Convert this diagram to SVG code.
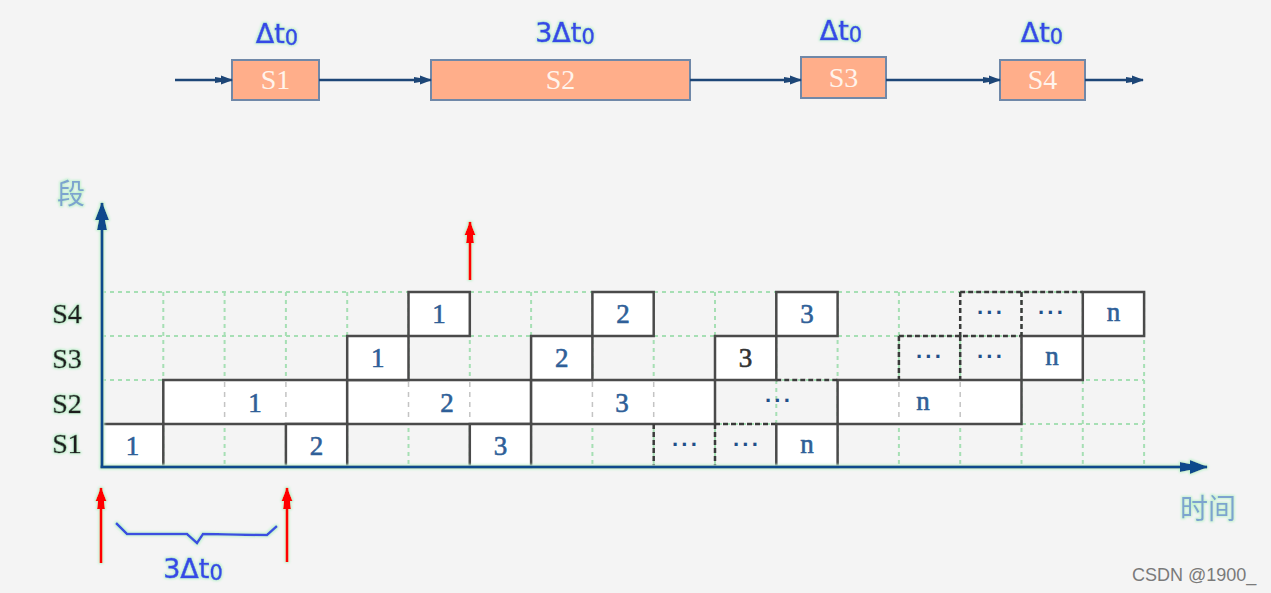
<svg xmlns="http://www.w3.org/2000/svg" width="1271" height="593" viewBox="0 0 1271 593">
<style>
.stage rect{fill:#ffae8a;stroke:#7088a8;stroke-width:2}
.stage text{font-family:"Liberation Serif",serif;font-size:28px;fill:#fff4ec;text-anchor:middle}
.dt{font-family:"DejaVu Sans",sans-serif;font-size:27px;fill:#3548e6;stroke:#3548e6;stroke-width:0.6;text-anchor:middle}
.pipe{stroke:#1d4677;stroke-width:2.5;fill:none;marker-end:url(#ah)}
.grid{stroke:#a6dfb4;stroke-width:2;stroke-dasharray:4 4;fill:none}
.cell rect{fill:#fff;stroke:#4a4a4a;stroke-width:2.5}
.inner{stroke:#c4c4c4;stroke-width:1.5;stroke-dasharray:5 5;fill:none}
.dash{stroke:#3a3a3a;stroke-width:2.5;stroke-dasharray:5 3;fill:none}
.num{font-family:"Liberation Serif",serif;font-size:27px;fill:#2f5f98;stroke:#2f5f98;stroke-width:0.6;text-anchor:middle}
.dk{fill:#333;stroke:#333}
.dots{font-family:"Liberation Sans",sans-serif;font-weight:bold;font-size:22px;fill:#1f4f8a;text-anchor:middle;letter-spacing:2px}
.row{font-family:"Liberation Serif",serif;font-size:28px;fill:#1e1e1e;stroke:#1e1e1e;stroke-width:0.6;text-anchor:middle}
.axis{stroke:#0f4a8c;stroke-width:3;fill:none}
.red{stroke:#ff0000;stroke-width:3;fill:none;marker-end:url(#rh)}
.cjk{font-family:"Noto Sans CJK SC",sans-serif;font-size:28px;fill:#7da3cf}
.brace{stroke:#3a50e0;stroke-width:2.5;fill:none}
.wm{font-family:"Liberation Sans",sans-serif;font-size:18px;fill:#7a7a7a}
</style>
<defs>
<filter id="glow" filterUnits="userSpaceOnUse" x="0" y="0" width="1271" height="593">
<feMorphology in="SourceAlpha" operator="dilate" radius="1.2" result="d"/>
<feFlood flood-color="#c2f2cf"/>
<feComposite in2="d" operator="in" result="g"/>
<feGaussianBlur in="g" stdDeviation="0.8" result="gb"/>
<feMerge><feMergeNode in="gb"/><feMergeNode in="SourceGraphic"/></feMerge>
</filter>
<marker id="ah" viewBox="0 0 18 10" refX="17" refY="5" markerWidth="18" markerHeight="10" markerUnits="userSpaceOnUse" orient="auto"><path d="M0,2 L6,3 L6,0.5 L18,5 L6,9.5 L6,7 L0,8 Z" fill="#1d4677"/></marker>
<marker id="axh" viewBox="0 0 28 16" refX="27" refY="8" markerWidth="28" markerHeight="16" markerUnits="userSpaceOnUse" orient="auto"><path d="M0,3 L10,5 L10,1 L28,8 L10,15 L10,11 L0,13 Z" fill="#0f4a8c"/></marker>
<marker id="rh" viewBox="0 0 22 12" refX="21" refY="6" markerWidth="22" markerHeight="12" markerUnits="userSpaceOnUse" orient="auto"><path d="M0,2 L8,3 L8,0.5 L22,6 L8,11.5 L8,9 L0,10 Z" fill="#ff0000"/></marker>
</defs>
<rect width="1271" height="593" fill="#f4f4f4"/>

<!-- pipeline stages -->
<g id="stage-S1" class="stage"><rect x="232" y="60" width="87" height="40"/><text x="275.5" y="89">S1</text></g>
<g id="stage-S2" class="stage"><rect x="431" y="60" width="259" height="40"/><text x="560.5" y="89">S2</text></g>
<g id="stage-S3" class="stage"><rect x="801" y="57" width="85" height="41"/><text x="843.5" y="87">S3</text></g>
<g id="stage-S4" class="stage"><rect x="1000" y="60" width="85" height="40"/><text x="1042.5" y="89">S4</text></g>
<g id="stage-times" filter="url(#glow)">
<text class="dt" x="277" y="43">Δt<tspan font-size="21" dy="2">0</tspan></text>
<text class="dt" x="565" y="42">3Δt<tspan font-size="21" dy="2">0</tspan></text>
<text class="dt" x="841" y="40">Δt<tspan font-size="21" dy="2">0</tspan></text>
<text class="dt" x="1042" y="42">Δt<tspan font-size="21" dy="2">0</tspan></text>
</g>

<!-- grid -->
<g id="grid" class="grid">
<path d="M102,292H1144M102,336H1144M102,380H1144M102,424H1144"/>
<path d="M163.3,292V467M224.6,292V467M285.9,292V467M347.2,292V467M408.5,292V467M469.8,292V467M531.1,292V467M592.4,292V467M653.7,292V467M715,292V467M776.3,292V467M837.6,292V467M898.9,292V467M960.2,292V467M1021.5,292V467M1082.8,292V467M1144.1,292V467"/>
</g>

<!-- S2 row -->
<g id="s2-1" class="cell"><rect x="163.3" y="380" width="183.9" height="44"/><path class="inner" d="M224.6,382V422M285.9,382V422"/><text class="num" x="255" y="412">1</text></g>
<g id="s2-2" class="cell"><rect x="347.2" y="380" width="183.9" height="44"/><path class="inner" d="M408.5,382V422M469.8,382V422"/><text class="num" x="447" y="412">2</text></g>
<g id="s2-3" class="cell"><rect x="531.1" y="380" width="183.9" height="44"/><path class="inner" d="M592.4,382V422M653.7,382V422"/><text class="num" x="622" y="412">3</text></g>
<g id="s2-n" class="cell"><rect x="837.6" y="380" width="183.9" height="44"/><path class="inner" d="M898.9,382V422M960.2,382V422"/><text class="num" x="923" y="410">n</text></g>
<g id="s2-dots"><path class="dash" d="M776.3,380H837.6M715,424H776.3"/><text class="dots" x="779" y="408">···</text></g>

<!-- S1 row -->
<g id="s1-1" class="cell"><rect x="102" y="424" width="61.3" height="43"/><text class="num" x="132.6" y="455">1</text></g>
<g id="s1-2" class="cell"><rect x="285.9" y="424" width="61.3" height="43"/><text class="num" x="316.5" y="455">2</text></g>
<g id="s1-3" class="cell"><rect x="469.8" y="424" width="61.3" height="43"/><text class="num" x="500.4" y="455">3</text></g>
<g id="s1-dots"><path class="dash" d="M653.7,424V467M715,424V467"/><text class="dots" x="686" y="452">···</text><text class="dots" x="747" y="452">···</text></g>
<g id="s1-n" class="cell"><rect x="776.3" y="424" width="61.3" height="43"/><text class="num" x="807" y="453">n</text></g>

<!-- S3 row -->
<g id="s3-1" class="cell"><rect x="347.2" y="336" width="61.3" height="44"/><text class="num" x="377.8" y="367">1</text></g>
<g id="s3-2" class="cell"><rect x="531.1" y="336" width="61.3" height="44"/><text class="num" x="561.7" y="367">2</text></g>
<g id="s3-3" class="cell"><rect x="715" y="336" width="61.3" height="44"/><text class="num dk" x="745.6" y="367">3</text></g>
<g id="s3-dots"><path class="dash" d="M898.9,336H1021.5M898.9,336V380M960.2,336V380"/><text class="dots" x="930" y="364">···</text><text class="dots" x="991" y="364">···</text></g>
<g id="s3-n" class="cell"><rect x="1021.5" y="336" width="61.3" height="44"/><text class="num" x="1052" y="365">n</text></g>

<!-- S4 row -->
<g id="s4-1" class="cell"><rect x="408.5" y="292" width="61.3" height="44"/><text class="num" x="439" y="323">1</text></g>
<g id="s4-2" class="cell"><rect x="592.4" y="292" width="61.3" height="44"/><text class="num" x="623" y="323">2</text></g>
<g id="s4-3" class="cell"><rect x="776.3" y="292" width="61.3" height="44"/><text class="num" x="807" y="323">3</text></g>
<g id="s4-dots"><path class="dash" d="M960.2,292H1082.8M960.2,292V336M1021.5,292V336"/><text class="dots" x="991" y="320">···</text><text class="dots" x="1052" y="320">···</text></g>
<g id="s4-n" class="cell"><rect x="1082.8" y="292" width="61.3" height="44"/><text class="num" x="1113.4" y="321">n</text></g>

<!-- row labels -->
<g id="row-labels" class="row" filter="url(#glow)">
<text x="67" y="323">S4</text>
<text x="67" y="368">S3</text>
<text x="67" y="413">S2</text>
<text x="67" y="453">S1</text>
</g>

<!-- connectors -->
<g id="connectors">
<path class="pipe" d="M175,80H232"/>
<path class="pipe" d="M319,80H431"/>
<path class="pipe" d="M690,80H801"/>
<path class="pipe" d="M886,80H1000"/>
<path class="pipe" d="M1085,80H1143"/>
<g filter="url(#glow)">
<path class="axis" d="M102,468V203" marker-end="url(#axh)"/>
<path class="axis" d="M100.5,467H1207" marker-end="url(#axh)"/>
<path class="red" d="M470,280V222"/>
<path class="red" d="M101,563V488"/>
<path class="red" d="M287,562V488"/>
<path class="brace" d="M116,523L127,534L187,534L197,543L203,534L267,535L277,526"/>
</g>
</g>

<g id="axis-labels" filter="url(#glow)">
<text class="cjk" x="57" y="204">段</text>
<text class="cjk" x="1180" y="519">时间</text>
<text class="dt" x="193" y="578">3Δt<tspan font-size="21" dy="2">0</tspan></text>
</g>
<text class="wm" x="1132" y="581">CSDN @1900_</text>
</svg>
